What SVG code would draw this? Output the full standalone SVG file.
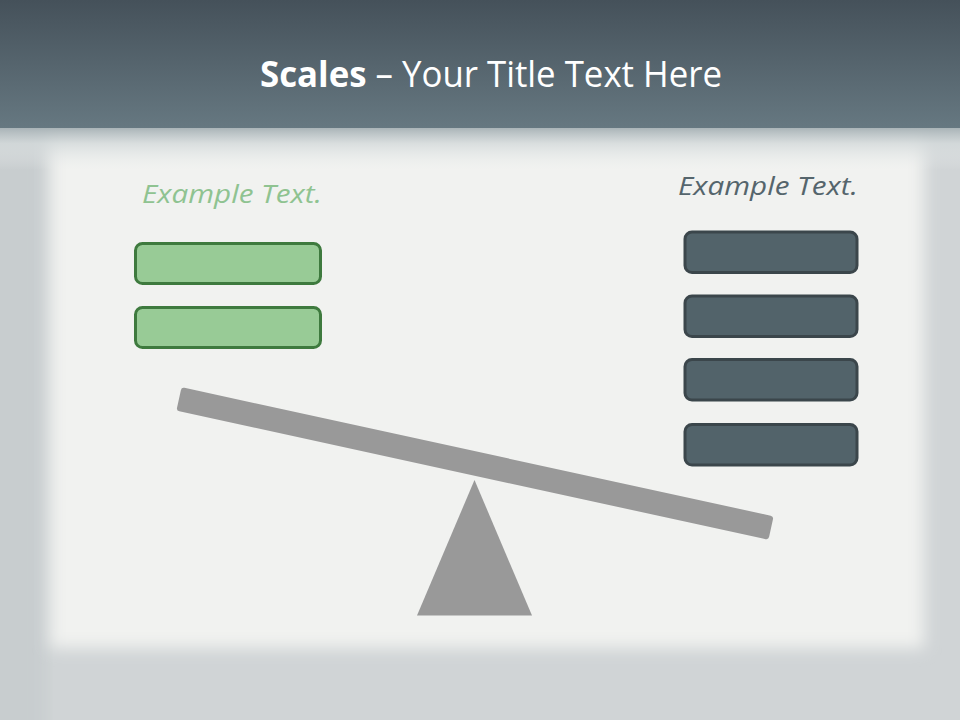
<svg xmlns="http://www.w3.org/2000/svg" width="960" height="720" viewBox="0 0 960 720">
  <defs>
    <linearGradient id="band" x1="0" y1="0" x2="0" y2="1">
      <stop offset="0" stop-color="#45515a"/>
      <stop offset="1" stop-color="#667881"/>
    </linearGradient>
    <linearGradient id="fade" x1="0" y1="0" x2="0" y2="1">
      <stop offset="0" stop-color="#a3aeb2"/>
      <stop offset="0.4" stop-color="#d3d9da" stop-opacity="0.8"/>
      <stop offset="1" stop-color="#e9ecec" stop-opacity="0"/>
    </linearGradient>
    <filter id="soft" x="-10%" y="-10%" width="120%" height="120%">
      <feGaussianBlur stdDeviation="8"/>
    </filter>
    <style>
      .title { font-family: "Open Sans", "Liberation Sans", sans-serif; fill: #ffffff; font-size: 36px; }
      .ex { font-family: "Open Sans", "Liberation Sans", sans-serif; font-style: italic; font-size: 25px; }
      .gbox { fill: #98cb96; stroke: #3e7a3e; stroke-width: 3; }
      .dbox { fill: #52636a; stroke: #3b464b; stroke-width: 3; }
      .shape { fill: #999999; }
    </style>
  </defs>

  <!-- background -->
  <rect x="0" y="0" width="960" height="720" fill="#d0d4d6"/>
  <rect x="-20" y="60" width="66" height="680" fill="#c8cdcf" filter="url(#soft)"/>
  <rect x="50" y="60" width="874" height="588" fill="#f1f2f0" filter="url(#soft)"/>
  <rect x="0" y="126" width="960" height="44" fill="url(#fade)"/>
  <rect x="0" y="0" width="960" height="128" fill="url(#band)"/>

  <g id="title">
    <text class="title" x="491" y="87" text-anchor="middle" textLength="462" lengthAdjust="spacingAndGlyphs"><tspan font-weight="bold">Scales</tspan> – Your Title Text Here</text>
  </g>

  <g id="left-label">
    <text class="ex" x="142" y="203" fill="#8fc391" textLength="180" lengthAdjust="spacingAndGlyphs">Example Text.</text>
  </g>
  <g id="right-label">
    <text class="ex" x="678" y="195" fill="#55656c" textLength="180" lengthAdjust="spacingAndGlyphs">Example Text.</text>
  </g>

  <g id="left-box-1"><rect class="gbox" x="135.5" y="243.5" width="185" height="40" rx="7"/></g>
  <g id="left-box-2"><rect class="gbox" x="135.5" y="307.5" width="185" height="40" rx="7"/></g>

  <g id="right-box-1"><rect class="dbox" x="685" y="232" width="172" height="40.5" rx="7"/></g>
  <g id="right-box-2"><rect class="dbox" x="685" y="296" width="172" height="40.5" rx="7"/></g>
  <g id="right-box-3"><rect class="dbox" x="685" y="359.5" width="172" height="40.5" rx="7"/></g>
  <g id="right-box-4"><rect class="dbox" x="685" y="424.5" width="172" height="40.5" rx="7"/></g>

  <g id="beam">
    <rect class="shape" x="-303" y="-12" width="606" height="24" rx="3" transform="translate(475 463.5) rotate(12.3)"/>
  </g>
  <g id="fulcrum">
    <polygon class="shape" points="474.5,480 417,615.5 532,615.5"/>
  </g>
</svg>
